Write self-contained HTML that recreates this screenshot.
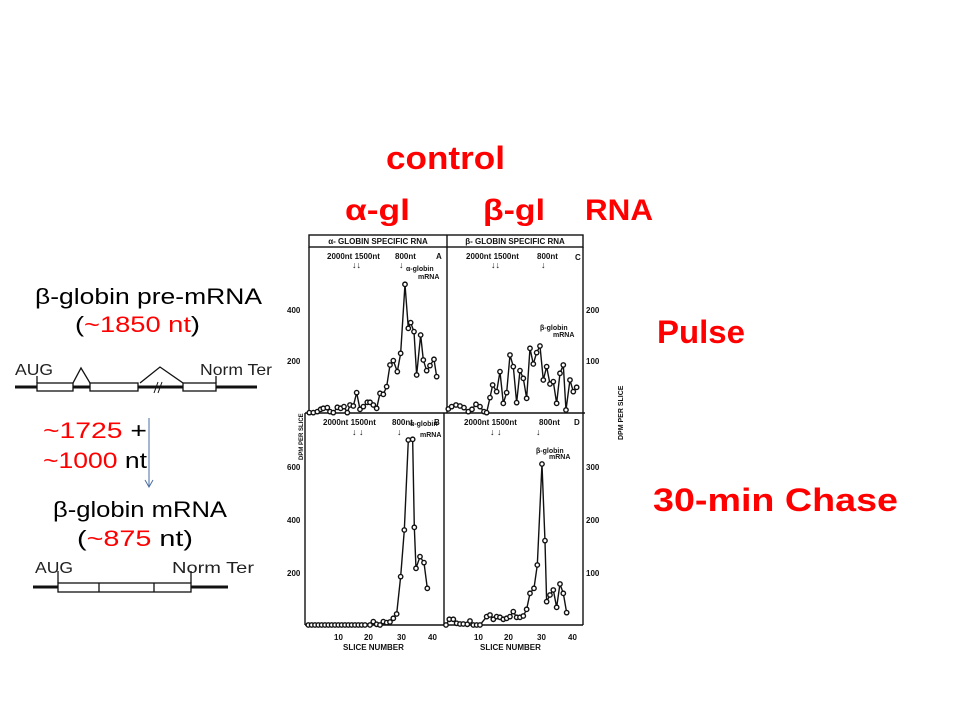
<!DOCTYPE html>
<html><head><meta charset="utf-8"><style>
html,body{margin:0;padding:0;background:#fff;}
svg{display:block;}
.r{fill:#f00;font-family:"Liberation Sans",sans-serif;font-weight:bold;}
.k{font-family:"Liberation Sans",sans-serif;}
.s{font-family:"Liberation Sans",sans-serif;font-weight:bold;font-size:8px;fill:#111;}
</style></head><body>
<svg width="960" height="720" viewBox="0 0 960 720" xmlns="http://www.w3.org/2000/svg">
<defs>
<marker id="c" markerWidth="30" markerHeight="30" refX="5" refY="5" markerUnits="userSpaceOnUse" viewBox="0 0 10 10">
<circle cx="5" cy="5" r="2.2" fill="#fff" stroke="#111" stroke-width="1.4"/>
</marker>
</defs>
<rect width="960" height="720" fill="#fff"/>
<!-- headings -->
<text class="r" x="386" y="169" font-size="32" textLength="119" lengthAdjust="spacingAndGlyphs">control</text>
<text class="r" x="345" y="220" font-size="30" textLength="65" lengthAdjust="spacingAndGlyphs">α-gl</text>
<text class="r" x="483" y="220" font-size="30" textLength="62" lengthAdjust="spacingAndGlyphs">β-gl</text>
<text class="r" x="585" y="220" font-size="30" textLength="68" lengthAdjust="spacingAndGlyphs">RNA</text>
<text class="r" x="657" y="343" font-size="32" textLength="88" lengthAdjust="spacingAndGlyphs">Pulse</text>
<text class="r" x="653" y="511" font-size="32" textLength="245" lengthAdjust="spacingAndGlyphs">30-min Chase</text>

<!-- left texts -->
<text class="k" x="35" y="304" font-size="22" textLength="227" lengthAdjust="spacingAndGlyphs">β-globin pre-mRNA</text>
<text class="k" x="75" y="332" font-size="22" textLength="125" lengthAdjust="spacingAndGlyphs">(<tspan fill="#f00">~1850 nt</tspan>)</text>
<text class="k" x="43" y="438" font-size="22" textLength="104" lengthAdjust="spacingAndGlyphs"><tspan fill="#f00">~1725</tspan> +</text>
<text class="k" x="43" y="468" font-size="22" textLength="104" lengthAdjust="spacingAndGlyphs"><tspan fill="#f00">~1000</tspan> nt</text>
<text class="k" x="53" y="517" font-size="22" textLength="174" lengthAdjust="spacingAndGlyphs">β-globin mRNA</text>
<text class="k" x="77" y="546" font-size="22" textLength="116" lengthAdjust="spacingAndGlyphs">(<tspan fill="#f00">~875</tspan> nt)</text>

<!-- gene diagram top -->
<text class="k" x="15" y="375" font-size="16" fill="#222" textLength="38" lengthAdjust="spacingAndGlyphs">AUG</text>
<text class="k" x="200" y="375" font-size="16" fill="#222" textLength="72" lengthAdjust="spacingAndGlyphs">Norm Ter</text>
<line x1="15" y1="387" x2="257" y2="387" stroke="#111" stroke-width="3"/>
<g fill="#fff" stroke="#111" stroke-width="1.3">
<rect x="37" y="383" width="36" height="8"/>
<rect x="90" y="383" width="48" height="8"/>
<rect x="183" y="383" width="33" height="8"/>
</g>
<polyline points="73,383 81,368 90,383" fill="none" stroke="#111" stroke-width="1.3"/>
<polyline points="140,383 160,367 183,383" fill="none" stroke="#111" stroke-width="1.3"/>
<line x1="37" y1="376" x2="37" y2="383" stroke="#111" stroke-width="1.3"/>
<line x1="216" y1="376" x2="216" y2="383" stroke="#111" stroke-width="1.3"/>
<line x1="154" y1="393" x2="158" y2="382" stroke="#111" stroke-width="1"/>
<line x1="158" y1="393" x2="162" y2="382" stroke="#111" stroke-width="1"/>

<!-- arrow -->
<line x1="149" y1="418" x2="149" y2="487" stroke="#4a6fa5" stroke-width="1"/>
<polyline points="145,480 149,487 153,480" fill="none" stroke="#4a6fa5" stroke-width="1"/>

<!-- gene diagram bottom -->
<text class="k" x="35" y="573" font-size="16" fill="#222" textLength="38" lengthAdjust="spacingAndGlyphs">AUG</text>
<text class="k" x="172" y="573" font-size="16" fill="#222" textLength="82" lengthAdjust="spacingAndGlyphs">Norm Ter</text>
<line x1="33" y1="587" x2="228" y2="587" stroke="#111" stroke-width="3"/>
<rect x="58" y="583" width="133" height="9" fill="#fff" stroke="#111" stroke-width="1.3"/>
<line x1="99" y1="583" x2="99" y2="592" stroke="#111" stroke-width="1.3"/>
<line x1="154" y1="583" x2="154" y2="592" stroke="#111" stroke-width="1.3"/>
<line x1="58" y1="571" x2="58" y2="583" stroke="#111" stroke-width="1.3"/>
<line x1="191" y1="571" x2="191" y2="583" stroke="#111" stroke-width="1.3"/>

<!-- figure frame -->
<g stroke="#111" fill="none" stroke-width="1.4">
<rect x="309" y="235" width="274" height="12"/>
<line x1="309" y1="247" x2="309" y2="413"/>
<line x1="447" y1="235" x2="447" y2="413"/>
<line x1="583" y1="247" x2="583" y2="413"/>
<line x1="305" y1="413" x2="585" y2="413"/>
<line x1="305" y1="413" x2="305" y2="625"/>
<line x1="444" y1="413" x2="444" y2="625"/>
<line x1="583" y1="413" x2="583" y2="625"/>
<line x1="305" y1="625" x2="583" y2="625"/>
</g>
<text class="s" x="378" y="244" text-anchor="middle">α- GLOBIN SPECIFIC RNA</text>
<text class="s" x="515" y="244" text-anchor="middle">β- GLOBIN SPECIFIC RNA</text>
<g class="s">
<text x="327" y="259">2000nt 1500nt</text><text x="395" y="259">800nt</text><text x="436" y="259">A</text>
<text x="466" y="259">2000nt 1500nt</text><text x="537" y="259">800nt</text><text x="575" y="260">C</text>
<text x="323" y="425">2000nt 1500nt</text><text x="392" y="425">800nt</text><text x="434" y="425">B</text>
<text x="464" y="425">2000nt 1500nt</text><text x="539" y="425">800nt</text><text x="574" y="425">D</text>
<text x="406" y="271" font-size="7">α-globin</text><text x="418" y="279" font-size="7">mRNA</text>
<text x="540" y="330" font-size="7">β-globin</text><text x="553" y="337" font-size="7">mRNA</text>
<text x="410" y="426" font-size="7">α-globin</text><text x="420" y="437" font-size="7">mRNA</text>
<text x="536" y="453" font-size="7">β-globin</text><text x="549" y="459" font-size="7">mRNA</text>
<text x="287" y="313">400</text><text x="287" y="364">200</text>
<text x="586" y="313">200</text><text x="586" y="364">100</text>
<text x="287" y="470">600</text><text x="287" y="523">400</text><text x="287" y="576">200</text>
<text x="586" y="470">300</text><text x="586" y="523">200</text><text x="586" y="576">100</text>
<text x="334" y="640">10</text><text x="364" y="640">20</text><text x="397" y="640">30</text><text x="428" y="640">40</text>
<text x="474" y="640">10</text><text x="504" y="640">20</text><text x="537" y="640">30</text><text x="568" y="640">40</text>
<text x="343" y="650">SLICE NUMBER</text><text x="480" y="650">SLICE NUMBER</text>
<text transform="translate(303,460) rotate(-90)" font-size="6">DPM PER SLICE</text>
<text transform="translate(623,440) rotate(-90)" font-size="7">DPM PER SLICE</text>
</g>
<g fill="#111" font-size="9" class="k">
<text x="352" y="268">↓↓</text><text x="399" y="268">↓</text>
<text x="491" y="268">↓↓</text><text x="541" y="268">↓</text>
<text x="352" y="435">↓ ↓</text><text x="397" y="435">↓</text>
<text x="490" y="435">↓ ↓</text><text x="536" y="435">↓</text>
</g>
<!-- data -->
<g fill="none" stroke="#111" marker-start="url(#c)" marker-mid="url(#c)" marker-end="url(#c)">
<polyline transform="translate(280,230) scale(0.3333)" stroke-width="4.2" points="88,548 100,548 112,545 122,538 130,535 142,533 150,545 160,548 172,532 182,535 192,530 202,548 210,525 220,528 230,488 240,538 250,530 262,517 270,517 280,525 290,535 300,490 310,493 320,470 330,405 340,392 352,425 362,370 375,163 385,295 392,278 402,305 410,435 422,315 430,390 440,422 450,407 462,388 470,440"/>
<polyline transform="translate(280,230) scale(0.3333)" stroke-width="4.2" points="505,537 515,530 528,525 540,528 552,533 565,545 576,538 588,523 600,530 612,545 620,548 630,503 638,465 650,485 660,425 670,520 680,488 690,375 700,410 710,518 720,422 730,445 740,505 750,355 760,402 770,368 780,348 790,450 800,410 810,462 820,455 830,520 840,430 850,405 858,540 870,450 880,485 890,472"/>
<polyline transform="translate(280,410) scale(0.3333)" stroke-width="4.2" points="85,645 95,645 105,645 115,645 125,645 135,645 145,645 155,645 165,645 175,645 185,645 195,645 205,645 215,645 225,645 235,645 245,645 255,645 270,645 280,635 290,643 300,645 310,635 320,638 330,636 340,625 350,612 362,500 373,360 385,90 398,88 403,352 408,475 420,440 432,458 442,535"/>
<polyline transform="translate(280,410) scale(0.3333)" stroke-width="4.2" points="498,645 508,628 520,628 530,640 540,642 550,642 562,643 570,633 580,645 590,645 600,645 620,620 630,615 640,628 650,620 660,622 670,628 680,625 690,620 700,605 710,622 720,622 730,618 740,598 750,550 762,535 772,465 786,162 795,392 800,575 810,555 820,540 830,592 840,522 850,550 860,608"/>
</g>
</svg>
</body></html>
